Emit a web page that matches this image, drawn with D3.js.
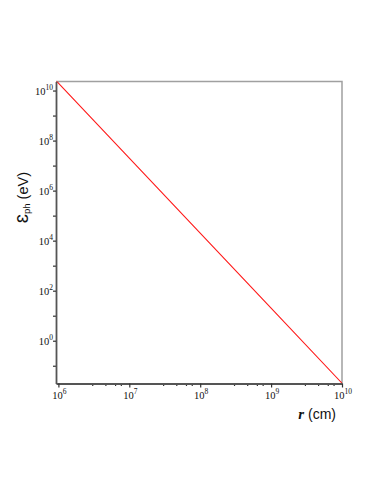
<!DOCTYPE html>
<html>
<head>
<meta charset="utf-8">
<script src="https://cdn.jsdelivr.net/npm/d3@7"></script>
<style>
  body { margin: 0; background: #fff; }
  svg { display: block; }
</style>
</head>
<body>
<div id="grafiek"></div>
<script>
// straal r (cm) en fotonenergie (eV)
const rWaarden = [9.25e5, 1e6, 1e7, 1e8, 1e9, 1e10];
const energieWaarden = [2.55e10, 2e10, 2e7, 2e4, 20, 0.02];

// as-instellingen
const xDomein = [9.25e5, 1e10];
const yDomein = [0.0195, 2.3e10];
const xMachten = [6, 7, 8, 9, 10];
const xTussen = [3, 4.6, 6.3, 7.6];
const yMachten = [0, 2, 4, 6, 8, 10];
const yTussen = [-1, 1, 3, 5, 7, 9];

const width = 382;
const height = 494;
const margin = { top: 81.5, right: 40, bottom: 110.5, left: 56 };

const svg = d3
  .select("#grafiek")
  .append("svg")
  .attr("width", width)
  .attr("height", height);

// schalen
const x = d3.scaleLog().domain(xDomein).range([margin.left, width - margin.right]);
const y = d3.scaleLog().domain(yDomein).range([height - margin.bottom, margin.top]);

// kader boven en rechts (licht grijs)
svg
  .append("path")
  .attr("d", `M${x(xDomein[0])},${y(yDomein[1])}H${x(xDomein[1])}V${y(yDomein[0])}`)
  .attr("fill", "none")
  .attr("stroke", "#a0a0a0")
  .attr("stroke-width", 1.5);

// de lijn
const lijn = d3
  .line()
  .x((d, i) => x(rWaarden[i]))
  .y((d) => y(d));

svg
  .append("defs")
  .append("clipPath")
  .attr("id", "klem")
  .append("rect")
  .attr("x", x(xDomein[0]))
  .attr("y", y(yDomein[1]))
  .attr("width", x(xDomein[1]) - x(xDomein[0]))
  .attr("height", y(yDomein[0]) - y(yDomein[1]));

svg
  .append("path")
  .datum(energieWaarden)
  .attr("d", lijn)
  .attr("clip-path", "url(#klem)")
  .attr("fill", "none")
  .attr("stroke", "#ff1a1a")
  .attr("stroke-width", 1.1);

// x-as
const xAs = svg
  .append("g")
  .attr("transform", `translate(0,${y(yDomein[0])})`);

const xMinor = [];
xMachten.slice(0, -1).forEach((m) => xTussen.forEach((t) => xMinor.push(t * 10 ** m)));

xAs
  .append("g")
  .call(d3.axisBottom(x).tickValues(xMinor).tickSize(2.5).tickFormat(""))
  .call((g) => g.select(".domain").remove());

xAs
  .append("g")
  .call(
    d3
      .axisBottom(x)
      .tickValues(xMachten.map((m) => 10 ** m))
      .tickSize(4)
      .tickSizeOuter(0)
      .tickFormat("")
  );

xAs.selectAll("line").attr("stroke", "#333").attr("stroke-width", 1.2);
xAs.selectAll(".domain").attr("stroke", "#555").attr("stroke-width", 1.8);

// x-labels 10^n
xMachten.forEach((m) => {
  const t = xAs
    .append("text")
    .attr("x", x(10 ** m) + 1)
    .attr("y", 15)
    .attr("text-anchor", "middle")
    .attr("font-family", "Liberation Serif, Times New Roman, serif")
    .attr("font-size", 10.5)
    .attr("fill", "#111");
  t.append("tspan").text("10");
  t.append("tspan").attr("dy", -4.5).attr("font-size", 7.5).text(m);
});

// y-as
const yAs = svg
  .append("g")
  .attr("transform", `translate(${x(xDomein[0])},0)`);

yAs
  .append("g")
  .call(
    d3
      .axisLeft(y)
      .tickValues(yTussen.map((m) => 10 ** m))
      .tickSize(3)
      .tickFormat("")
  )
  .call((g) => g.select(".domain").remove());

yAs
  .append("g")
  .call(
    d3
      .axisLeft(y)
      .tickValues(yMachten.map((m) => 10 ** m))
      .tickSize(3)
      .tickSizeOuter(0)
      .tickFormat("")
  );

yAs.selectAll("line").attr("stroke", "#333").attr("stroke-width", 1.2);
yAs.selectAll(".domain").attr("stroke", "#555").attr("stroke-width", 1.8);

// y-labels 10^n
yMachten.forEach((m) => {
  const t = yAs
    .append("text")
    .attr("x", -3)
    .attr("y", y(10 ** m) + 4)
    .attr("text-anchor", "end")
    .attr("font-family", "Liberation Serif, Times New Roman, serif")
    .attr("font-size", 10.5)
    .attr("fill", "#111");
  t.append("tspan").text("10");
  t.append("tspan").attr("dy", -4.5).attr("font-size", 7.5).text(m);
});

// as-titels
const yTitel = svg
  .append("text")
  .attr("transform", `translate(28,${(y(1e6) + y(1e4)) / 2 - 18}) rotate(-90)`)
  .attr("text-anchor", "middle")
  .attr("font-family", "Liberation Sans, Arial, sans-serif")
  .attr("font-size", 14.5)
  .attr("fill", "#111");
yTitel.append("tspan").attr("font-size", 20).text("\u025B");
yTitel.append("tspan").attr("font-size", 9.5).attr("dy", 2).text("ph");
yTitel.append("tspan").attr("dy", -2).text(" (eV)");

const xTitel = svg
  .append("text")
  .attr("x", x(xDomein[1]) - 6)
  .attr("y", y(yDomein[0]) + 35)
  .attr("text-anchor", "end")
  .attr("font-family", "Liberation Sans, Arial, sans-serif")
  .attr("font-size", 14)
  .attr("fill", "#111");
xTitel
  .append("tspan")
  .attr("font-family", "Liberation Serif, Times New Roman, serif")
  .attr("font-style", "italic")
  .attr("font-weight", "bold")
  .attr("font-size", 15)
  .text("r");
xTitel.append("tspan").text(" (cm)");
</script>
</body>
</html>
